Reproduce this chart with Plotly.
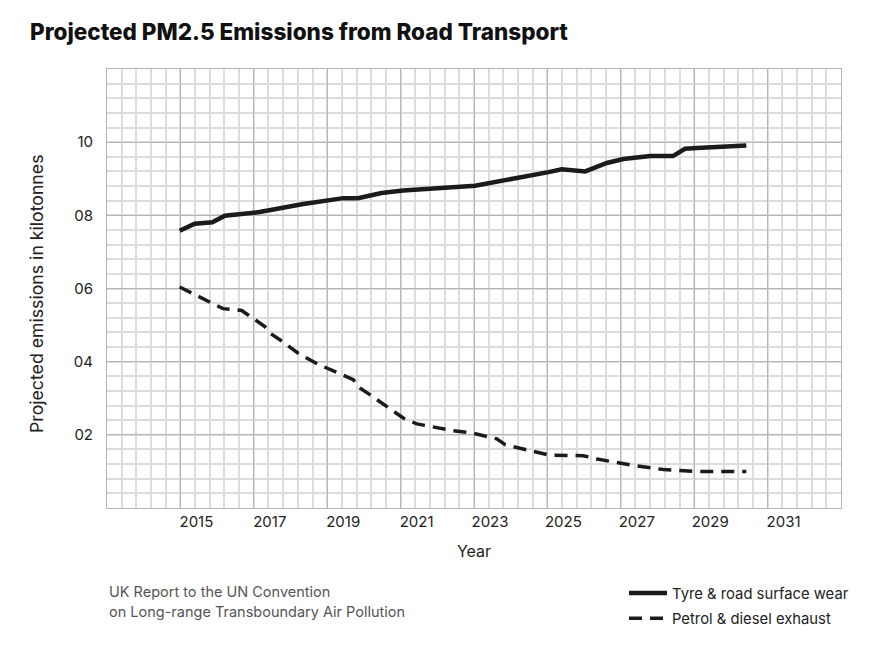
import plotly.graph_objects as go

# ---- data ----
tyre_years = [2014.98, 2015.39, 2015.87, 2016.21, 2016.53, 2017.16, 2018.35, 2018.98,
              2019.44, 2019.84, 2020.48, 2021.07, 2022.62, 2023.03, 2025.03, 2025.39,
              2026.03, 2026.62, 2027.07, 2027.80, 2028.42, 2028.75, 2029.07, 2030.42]
tyre_values = [7.58, 7.77, 7.81, 7.99, 8.02, 8.09, 8.31, 8.42,
               8.47, 8.47, 8.61, 8.68, 8.79, 8.81, 9.18, 9.26,
               9.20, 9.43, 9.54, 9.62, 9.62, 9.82, 9.84, 9.91]

exhaust_years = [2014.98, 2016.16, 2016.67, 2017.03, 2017.30, 2017.44, 2017.71, 2018.21,
                 2018.75, 2019.71, 2019.89, 2020.16, 2021.07, 2021.44, 2021.80, 2022.39,
                 2022.94, 2023.62, 2023.85, 2024.80, 2025.07, 2025.98, 2026.35, 2027.25,
                 2027.62, 2028.16, 2029.07, 2030.42]
exhaust_values = [6.04, 5.45, 5.40, 5.16, 4.96, 4.78, 4.60, 4.23,
                  3.93, 3.51, 3.28, 3.10, 2.46, 2.30, 2.23, 2.12,
                  2.05, 1.89, 1.73, 1.50, 1.44, 1.43, 1.34, 1.18,
                  1.12, 1.05, 1.00, 1.00]

x_tick_vals = [2015, 2017, 2019, 2021, 2023, 2025, 2027, 2029, 2031]
x_tick_text = ["2015", "2017", "2019", "2021", "2023", "2025", "2027", "2029", "2031"]
y_tick_vals = [2, 4, 6, 8, 10]
y_tick_text = ["02", "04", "06", "08", "10"]

series_names = ["Tyre & road surface wear", "Petrol & diesel exhaust"]
title_text = "Projected PM2.5 Emissions from Road Transport"
y_title_text = "Projected emissions in kilotonnes"
source_lines = ["UK Report to the UN Convention", "on Long-range Transboundary Air Pollution"]

FONT = "Inter, Roboto, 'Noto Sans', sans-serif"
INK = "#1b1b1b"

# page body has an 8px margin; figure sized so it fits the window
W, H = 868, 638
OFF = 8
PL, PR, PT, PB = 107, 841, 69, 508  # plot area in window pixels

fig = go.Figure()
fig.add_trace(go.Scatter(
    x=tyre_years, y=tyre_values, mode="lines", name=series_names[0],
    line=dict(color=INK, width=4.5), legendgroup="a",
))
fig.add_trace(go.Scatter(
    x=exhaust_years, y=exhaust_values, mode="lines", name=series_names[1],
    line=dict(color=INK, width=3.5, dash="13px,8px"), legendgroup="b",
))

pw, ph = PR - PL, PB - PT

fig.update_layout(
    width=W, height=H,
    margin=dict(l=PL - OFF, r=W - (PR - OFF), t=PT - OFF, b=H - (PB - OFF),
                autoexpand=False),
    paper_bgcolor="white", plot_bgcolor="white",
    font=dict(family=FONT, size=15, color="#222"),
    title=dict(text=title_text, x=(30 - OFF) / W, xanchor="left", xref="container",
               y=1 - (32 - OFF) / H, yanchor="middle", yref="container",
               font=dict(family=FONT, size=22.5, color="#111", weight=800)),
    showlegend=True,
    legend=dict(x=(624 - PL) / pw, xanchor="left", y=(PB - 577) / ph, yanchor="top",
                font=dict(family=FONT, size=14.8, color="#222"),
                itemwidth=38, tracegroupgap=3, bgcolor="rgba(0,0,0,0)"),
)

fig.update_xaxes(
    range=[2013, 2033], tickmode="array", tickvals=x_tick_vals, ticktext=x_tick_text,
    ticks="", ticklabelshift=16, ticklabelstandoff=0, automargin=False,
    showgrid=True, gridcolor="#b5b5b5", gridwidth=1,
    minor=dict(tickmode="linear", tick0=2013, dtick=0.4, showgrid=True,
               gridcolor="#dcdcdc", gridwidth=1.5),
    showline=True, linecolor="#b5b5b5", linewidth=1, mirror=True, zeroline=False,
    title=dict(text="Year", standoff=15, font=dict(size=16, color="#222")),
    tickfont=dict(size=15, color="#222"),
)
fig.update_yaxes(
    range=[0, 12], tickmode="array", tickvals=y_tick_vals, ticktext=y_tick_text,
    ticks="", ticklabelstandoff=10, automargin=False,
    showgrid=True, gridcolor="#b5b5b5", gridwidth=1,
    minor=dict(tickmode="linear", tick0=0, dtick=0.4, showgrid=True,
               gridcolor="#dcdcdc", gridwidth=1.5),
    showline=True, linecolor="#b5b5b5", linewidth=1, mirror=True, zeroline=False,
    tickfont=dict(size=15, color="#222"),
)

# y-axis title, placed slightly below the plot centre as in the reference
fig.add_annotation(
    text=y_title_text, textangle=-90, xref="paper", yref="paper",
    x=(36 - PL) / pw, xanchor="center", y=(PB - 294) / ph, yanchor="middle",
    showarrow=False, font=dict(family=FONT, size=17.7, color="#222"),
)

for i, line in enumerate(source_lines):
    fig.add_annotation(
        text=line, xref="paper", yref="paper", x=0, xanchor="left",
        y=(PB - (591 + 21 * i)) / ph, yanchor="middle", showarrow=False,
        font=dict(family=FONT, size=14.5, color="#555"),
    )

fig.write_html("out.html")
